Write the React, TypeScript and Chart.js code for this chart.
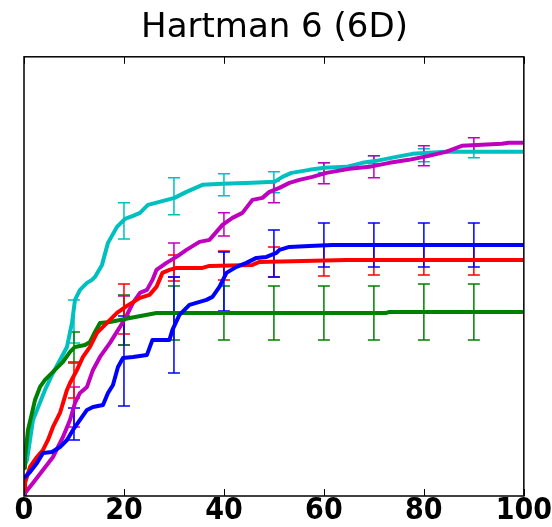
import React, { useEffect, useRef } from "react";
import { Chart, registerables } from "chart.js";

Chart.register(...registerables);

const TITLE = "Hartman 6 (6D)";
const X_TICKS = [0, 20, 40, 60, 80, 100];
const ERR_X = [10, 20, 30, 40, 50, 60, 70, 80, 90];
const Y_MAX = 4.39;

// cyan
const cyanX = [0, 0.6, 1.8, 4.2, 5.8, 7.2, 8.6, 9.6, 10.2, 11.2, 12.6, 13.6, 14.2, 15.6, 16.8, 18.6, 20.2, 21.8, 23.2, 24.8, 27.1, 30.1, 32.5, 35.7, 39.7, 45.7, 50.1, 51.7, 53.5, 57.1, 60.1, 64.5, 67.7, 70.5, 74.5, 77.7, 81.0, 84.4, 100];
const cyanY = [0.29, 0.36, 0.76, 1.06, 1.23, 1.36, 1.49, 1.73, 1.96, 2.06, 2.13, 2.16, 2.19, 2.31, 2.53, 2.69, 2.77, 2.8, 2.83, 2.91, 2.94, 2.98, 3.04, 3.11, 3.12, 3.13, 3.14, 3.19, 3.23, 3.26, 3.28, 3.29, 3.33, 3.35, 3.39, 3.42, 3.43, 3.44, 3.44];
const cyanHi = [1.96, 2.93, 3.18, 3.22, 3.24, 3.33, 3.4, 3.47, 3.5];
const cyanLo = [1.53, 2.57, 2.81, 3.0, 3.03, 3.23, 3.32, 3.34, 3.38];

// magenta
const magX = [0, 0.2, 1.8, 3.8, 5.8, 7.8, 9.2, 10.2, 11.2, 12.6, 13.8, 15.2, 17.2, 19.2, 20.6, 21.8, 23.2, 24.6, 25.7, 26.5, 28.5, 30.5, 32.5, 35.1, 37.1, 38.5, 39.7, 41.7, 43.7, 45.7, 47.7, 49.1, 51.1, 53.1, 55.1, 57.7, 60.5, 65.1, 69.1, 73.1, 77.0, 81.0, 84.4, 87.6, 91.6, 95.6, 97.0, 100];
const magY = [0.01, 0.03, 0.13, 0.26, 0.39, 0.59, 0.76, 0.93, 1.03, 1.09, 1.26, 1.39, 1.53, 1.69, 1.81, 1.93, 2.03, 2.06, 2.16, 2.26, 2.33, 2.39, 2.46, 2.54, 2.56, 2.64, 2.71, 2.78, 2.83, 2.96, 2.98, 3.04, 3.08, 3.13, 3.16, 3.19, 3.23, 3.27, 3.29, 3.33, 3.36, 3.4, 3.44, 3.5, 3.51, 3.52, 3.53, 3.53];
const magHi = [1.09, 2.0, 2.53, 2.83, 3.15, 3.33, 3.4, 3.5, 3.58];
const magLo = [0.69, 1.51, 2.19, 2.6, 2.93, 3.12, 3.18, 3.3, 3.44];

// red
const redX = [0, 0.2, 1.2, 2.6, 3.8, 4.8, 5.8, 7.2, 8.6, 9.2, 10.6, 11.8, 13.2, 14.6, 16.6, 18.6, 20.6, 23.2, 25.1, 26.5, 27.7, 29.1, 30.5, 35.7, 37.1, 45.7, 47.1, 64.5, 100];
const redY = [0.06, 0.13, 0.29, 0.39, 0.46, 0.56, 0.69, 0.83, 1.06, 1.13, 1.26, 1.39, 1.49, 1.63, 1.73, 1.83, 1.9, 1.98, 2.01, 2.09, 2.23, 2.26, 2.28, 2.28, 2.3, 2.31, 2.34, 2.36, 2.36];
const redHi = [1.33, 2.12, 2.41, 2.45, 2.49, 2.51, 2.51, 2.51, 2.51];
const redLo = [0.98, 1.62, 2.15, 2.16, 2.19, 2.2, 2.21, 2.21, 2.21];

// blue
const blueX = [0, 1.2, 2.6, 3.8, 5.6, 7.2, 8.6, 9.8, 11.2, 12.6, 13.8, 15.8, 16.8, 17.8, 18.8, 19.8, 21.8, 24.6, 25.7, 29.1, 29.7, 31.1, 33.1, 36.5, 37.7, 39.1, 40.5, 42.5, 44.5, 46.5, 48.5, 50.5, 51.1, 53.1, 57.1, 61.7, 100];
const blueY = [0.18, 0.24, 0.33, 0.43, 0.44, 0.49, 0.56, 0.66, 0.76, 0.86, 0.89, 0.91, 1.03, 1.11, 1.29, 1.38, 1.39, 1.41, 1.56, 1.56, 1.66, 1.81, 1.91, 1.96, 1.99, 2.09, 2.23, 2.29, 2.33, 2.38, 2.39, 2.43, 2.46, 2.49, 2.5, 2.51, 2.51];
const blueHi = [0.88, 1.8, 2.19, 2.44, 2.66, 2.73, 2.73, 2.73, 2.73];
const blueLo = [0.56, 0.9, 1.23, 1.85, 2.19, 2.29, 2.29, 2.29, 2.29];

// green
const greenX = [0, 0.2, 0.8, 1.6, 2.2, 3.2, 4.2, 5.2, 6.6, 7.8, 9.2, 10.2, 12.2, 13.2, 14.2, 15.2, 17.2, 19.2, 21.2, 26.5, 72.5, 73.1, 100];
const greenY = [0.28, 0.39, 0.66, 0.83, 0.96, 1.09, 1.16, 1.21, 1.28, 1.34, 1.44, 1.49, 1.51, 1.54, 1.64, 1.73, 1.74, 1.76, 1.78, 1.83, 1.83, 1.84, 1.84];
const greenHi = [1.64, 2.01, 2.1, 2.1, 2.1, 2.1, 2.1, 2.12, 2.12];
const greenLo = [1.34, 1.51, 1.56, 1.56, 1.56, 1.56, 1.56, 1.56, 1.56];

const SERIES = [
  { name: "blue", color: "#0000ff", xs: blueX, ys: blueY, hi: blueHi, lo: blueLo, order: 1 },
  { name: "red", color: "#ff0000", xs: redX, ys: redY, hi: redHi, lo: redLo, order: 2 },
  { name: "green", color: "#008000", xs: greenX, ys: greenY, hi: greenHi, lo: greenLo, order: 3 },
  { name: "magenta", color: "#bf00bf", xs: magX, ys: magY, hi: magHi, lo: magLo, order: 4 },
  { name: "cyan", color: "#00bfbf", xs: cyanX, ys: cyanY, hi: cyanHi, lo: cyanLo, order: 5 },
];

const errorBarPlugin = {
  id: "errorBars",
  beforeDatasetsDraw(chart: any) {
    const { ctx, scales } = chart;
    const x = scales.x;
    const y = scales.y;
    const drawOrder = [...SERIES].sort((a, b) => b.order - a.order);
    drawOrder.forEach((s) => {
      ctx.save();
      ctx.strokeStyle = s.color;
      ctx.lineWidth = 1.5;
      ERR_X.forEach((xv, i) => {
        const px = x.getPixelForValue(xv);
        const top = y.getPixelForValue(s.hi[i]);
        const bot = y.getPixelForValue(s.lo[i]);
        ctx.beginPath();
        ctx.moveTo(px, top);
        ctx.lineTo(px, bot);
        ctx.moveTo(px - 6, top);
        ctx.lineTo(px + 6, top);
        ctx.moveTo(px - 6, bot);
        ctx.lineTo(px + 6, bot);
        ctx.stroke();
      });
      ctx.restore();
    });
  },
};

const framePlugin = {
  id: "frame",
  afterDraw(chart: any) {
    const { ctx, chartArea, scales } = chart;
    const { left, right, top, bottom } = chartArea;
    ctx.save();
    ctx.strokeStyle = "#000";
    ctx.lineWidth = 1.5;
    ctx.strokeRect(left, top, right - left, bottom - top);
    ctx.lineWidth = 1;
    X_TICKS.forEach((v) => {
      const px = Math.round(scales.x.getPixelForValue(v)) + 0.5;
      ctx.beginPath();
      ctx.moveTo(px, bottom);
      ctx.lineTo(px, bottom - 7);
      ctx.moveTo(px, top);
      ctx.lineTo(px, top + 7);
      ctx.stroke();
    });
    ctx.restore();
  },
};

export default function App() {
  const ref = useRef<HTMLCanvasElement>(null);
  useEffect(() => {
    document.body.style.margin = "0";
    const canvas = ref.current;
    if (!canvas) return;
    const chart = new Chart(canvas, {
      type: "line",
      data: {
        datasets: SERIES.map((s) => ({
          label: s.name,
          data: s.xs.map((xv, i) => ({ x: xv, y: s.ys[i] })),
          borderColor: s.color,
          backgroundColor: s.color,
          borderWidth: 4,
          pointRadius: 0,
          tension: 0,
          fill: false,
          order: s.order,
          borderJoinStyle: "round" as const,
          borderCapStyle: "butt" as const,
        })),
      },
      options: {
        animation: false,
        responsive: false,
        maintainAspectRatio: false,
        layout: { padding: { left: 24, right: 27, top: 0, bottom: 1 } },
        plugins: {
          legend: { display: false },
          tooltip: { enabled: false },
          title: {
            display: true,
            text: TITLE,
            color: "#000",
            font: { family: "DejaVu Sans", size: 34, weight: "normal" },
            padding: { top: 8, bottom: 8 },
          },
        },
        scales: {
          x: {
            type: "linear",
            min: 0,
            max: 100,
            afterBuildTicks: (axis: any) => {
              axis.ticks = X_TICKS.map((v) => ({ value: v }));
            },
            ticks: {
              color: "#000",
              font: {
                family: "'Liberation Sans Narrow', 'DejaVu Sans Condensed', 'DejaVu Sans'",
                size: 30,
                weight: "bold",
                lineHeight: 1,
              },
              padding: 0,
              maxRotation: 0,
              autoSkip: false,
            },
            grid: { display: false, drawTicks: false },
            border: { display: false },
          },
          y: {
            type: "linear",
            min: 0,
            max: Y_MAX,
            display: false,
          },
        },
      },
      plugins: [errorBarPlugin, framePlugin],
    });
    return () => chart.destroy();
  }, []);
  return (
    <div style={{ width: 552, height: 527 }}>
      <canvas ref={ref} width={552} height={527} />
    </div>
  );
}
